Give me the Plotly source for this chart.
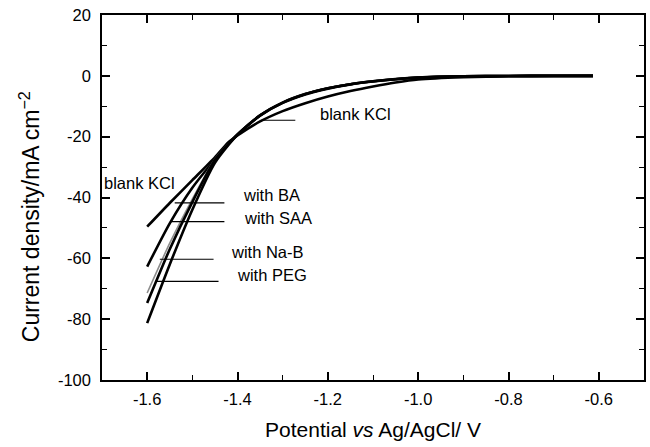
import plotly.graph_objects as go

# Potential grid (V vs Ag/AgCl)
potential = [-1.6, -1.55, -1.5, -1.45, -1.42, -1.4, -1.35, -1.3, -1.25, -1.2,
             -1.15, -1.1, -1.05, -1.0, -0.9, -0.8, -0.7, -0.613]

blank_kcl = [-49.6, -41.8, -34.3, -26.8, -21.8, -19.6, -15.0, -11.6, -9.0, -6.8,
             -5.0, -3.5, -2.2, -1.2, -0.45, -0.15, -0.05, 0]
with_saa = [-62.7, -48.5, -36.8, -27.5, -22.4, -19.3, -13.0, -8.8, -6.0, -4.1,
            -2.75, -1.8, -1.1, -0.6, -0.15, -0.05, 0, 0]
with_nab = [-71.4, -55.0, -40.5, -27.3, -22.3, -19.2, -12.9, -8.7, -5.9, -4.0,
            -2.7, -1.75, -1.05, -0.55, -0.15, -0.05, 0, 0]
with_ba = [-74.7, -57.0, -41.5, -27.6, -22.4, -19.3, -13.1, -8.9, -6.1, -4.2,
           -2.8, -1.85, -1.1, -0.6, -0.17, -0.05, 0, 0]
with_peg = [-81.3, -62.0, -44.0, -28.6, -22.7, -19.4, -13.0, -8.8, -6.0, -4.1,
            -2.75, -1.8, -1.05, -0.55, -0.15, -0.05, 0, 0]

series_names = ["blank KCl", "with SAA", "with Na-B", "with BA", "with PEG"]
series_values = [blank_kcl, with_saa, with_nab, with_ba, with_peg]
series_colors = ["black", "black", "#8c8c8c", "black", "black"]
series_widths = [2.6, 2.6, 1.6, 2.6, 2.6]

# Labels: text, x, y, pointer x0, pointer x1, pointer y
label_texts = ["blank KCl", "blank KCl", "with BA", "with SAA", "with Na-B", "with PEG"]
label_x = [-1.221, -1.699, -1.392, -1.389, -1.418, -1.405]
label_y = [-12.6, -35.2, -39.2, -46.6, -57.8, -65.4]
pointer_x0 = [-1.347, None, -1.539, -1.548, -1.572, -1.581]
pointer_x1 = [-1.272, None, -1.429, -1.429, -1.453, -1.442]
pointer_y = [-14.6, None, -41.8, -47.9, -60.3, -67.6]

x_ticks = [-1.6, -1.4, -1.2, -1.0, -0.8, -0.6]
x_ticklabels = ["-1.6", "-1.4", "-1.2", "-1.0", "-0.8", "-0.6"]
y_ticks = [-100, -80, -60, -40, -20, 0, 20]
y_ticklabels = ["-100", "-80", "-60", "-40", "-20", "0", "20"]

fig = go.Figure()
for name, vals, col, w in zip(series_names, series_values, series_colors, series_widths):
    fig.add_trace(go.Scatter(x=potential, y=vals, mode="lines", name=name,
                             line=dict(color=col, width=w, shape="spline", smoothing=0.6),
                             showlegend=False))

for i, t in enumerate(label_texts):
    fig.add_annotation(x=label_x[i], y=label_y[i], text=t, showarrow=False,
                       xanchor="left", yanchor="middle",
                       font=dict(size=16.5, color="black"))
    if pointer_x0[i] is not None:
        fig.add_shape(type="line", x0=pointer_x0[i], x1=pointer_x1[i],
                      y0=pointer_y[i], y1=pointer_y[i],
                      line=dict(color="black", width=1.2))

# y-axis title as a rotated annotation
fig.add_annotation(xref="paper", yref="paper", x=-0.134, y=0.447,
                   text="Current density/mA cm<sup>\u22122</sup>", textangle=-90,
                   showarrow=False, xanchor="center", yanchor="middle",
                   font=dict(size=23, color="black"))

axis_common = dict(showgrid=False, zeroline=False, showline=True, linecolor="black",
                   linewidth=1.5, mirror="ticks", ticks="inside", ticklen=8,
                   tickwidth=1.5, tickcolor="black",
                   tickfont=dict(size=16.5, color="black"))

fig.update_xaxes(range=[-1.7, -0.5], tickvals=x_ticks, ticktext=x_ticklabels,
                 minor=dict(dtick=0.1, tick0=-1.7, ticks="inside", ticklen=5,
                            tickwidth=1.2, tickcolor="black"),
                 ticklabelstandoff=3,
                 title=dict(text="Potential <i>vs</i> Ag/AgCl/ V",
                            font=dict(size=21, color="black"), standoff=16),
                 **axis_common)
fig.update_yaxes(range=[-100, 20], tickvals=y_ticks, ticktext=y_ticklabels,
                 minor=dict(dtick=10, tick0=-100, ticks="inside", ticklen=5,
                            tickwidth=1.2, tickcolor="black"),
                 ticklabelstandoff=6,
                 **axis_common)

fig.update_layout(width=650, height=447, margin=dict(l=102, r=4, t=15, b=67),
                  plot_bgcolor="white", paper_bgcolor="white",
                  font=dict(family="Liberation Sans, Arial, sans-serif", color="black"))

fig.write_html("out.html")
